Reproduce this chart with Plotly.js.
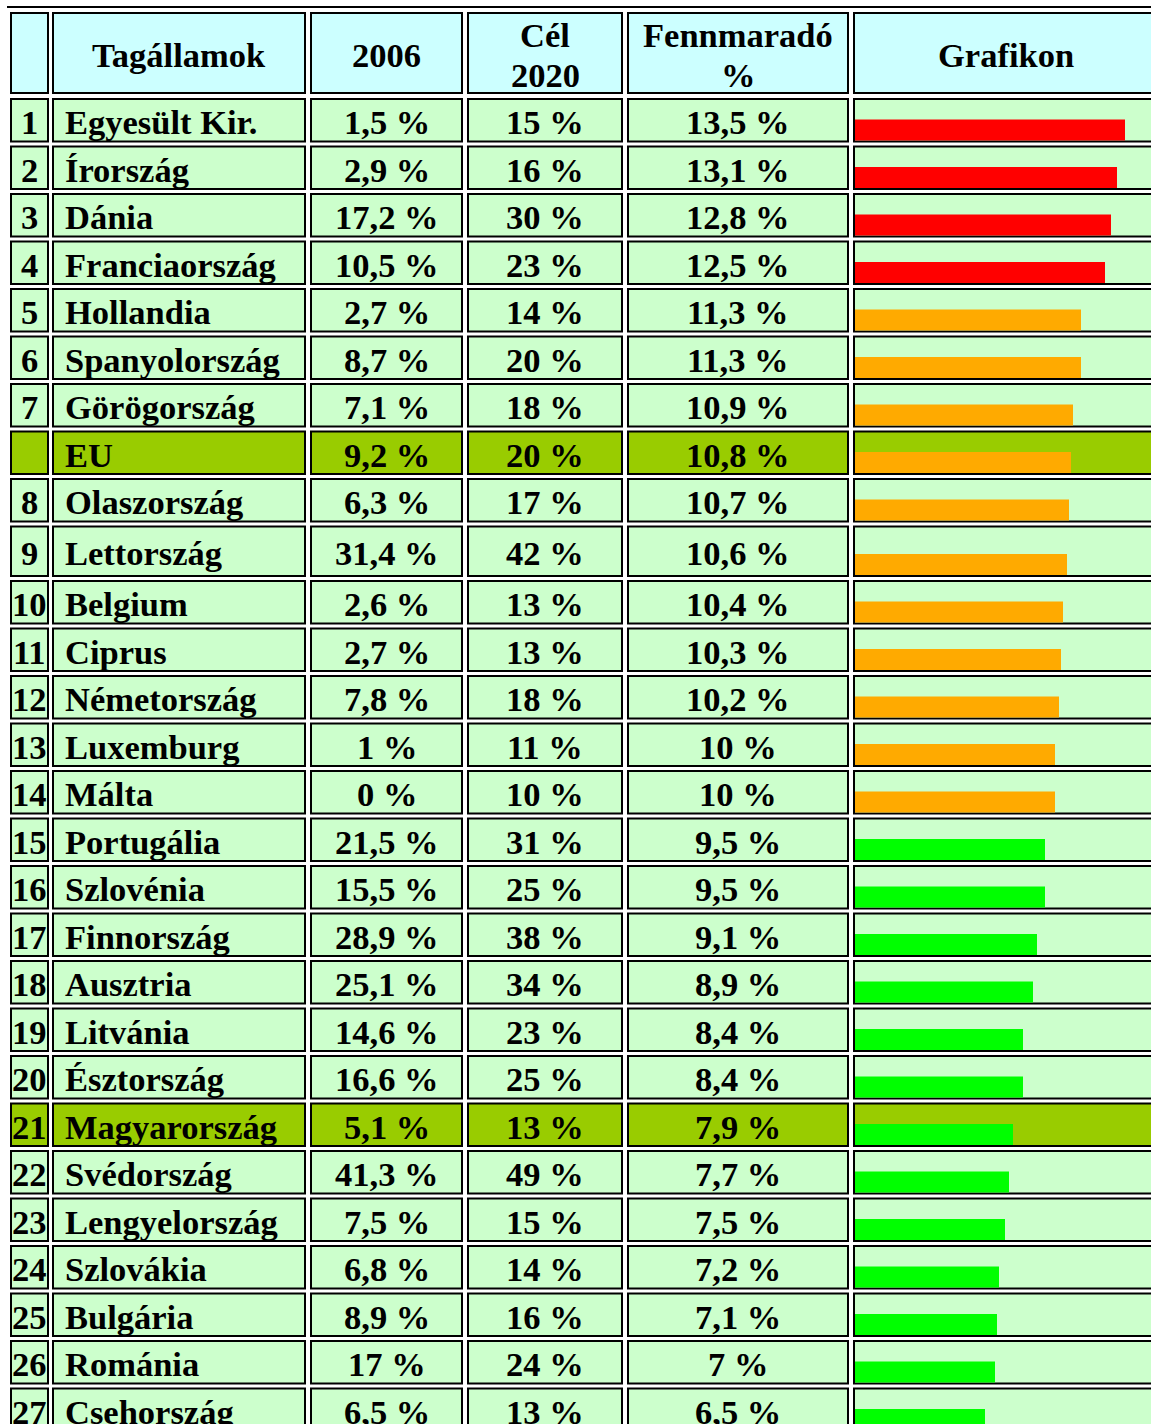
<!DOCTYPE html>
<html>
<head>
<meta charset="utf-8">
<script src="https://cdn.plot.ly/plotly-3.0.1.min.js"></script>
<style>
html,body{margin:0;padding:0;background:#ffffff;}
#chart{width:1151px;height:1424px;}
</style>
</head>
<body>
<div id="chart"></div>
<script>
// ---------------- DATA ----------------
const headers = ['', 'Tagállamok', '2006', 'Cél<br>2020', 'Fennmaradó<br>%', 'Grafikon'];
const ranks = ['1','2','3','4','5','6','7','','8','9','10','11','12','13','14','15','16','17','18','19','20','21','22','23','24','25','26','27'];
const countries = ['Egyesült Kir.','Írország','Dánia','Franciaország','Hollandia','Spanyolország','Görögország','EU','Olaszország','Lettország','Belgium','Ciprus','Németország','Luxemburg','Málta','Portugália','Szlovénia','Finnország','Ausztria','Litvánia','Észtország','Magyarország','Svédország','Lengyelország','Szlovákia','Bulgária','Románia','Csehország'];
const share2006 = [1.5, 2.9, 17.2, 10.5, 2.7, 8.7, 7.1, 9.2, 6.3, 31.4, 2.6, 2.7, 7.8, 1, 0, 21.5, 15.5, 28.9, 25.1, 14.6, 16.6, 5.1, 41.3, 7.5, 6.8, 8.9, 17, 6.5];
const target2020 = [15, 16, 30, 23, 14, 20, 18, 20, 17, 42, 13, 13, 18, 11, 10, 31, 25, 38, 34, 23, 25, 13, 49, 15, 14, 16, 24, 13];
const remaining = [13.5, 13.1, 12.8, 12.5, 11.3, 11.3, 10.9, 10.8, 10.7, 10.6, 10.4, 10.3, 10.2, 10, 10, 9.5, 9.5, 9.1, 8.9, 8.4, 8.4, 7.9, 7.7, 7.5, 7.2, 7.1, 7, 6.5];
const highlighted = ['EU', 'Magyarország'];

// ---------------- LAYOUT / STYLE ----------------
const W = 1151, H = 1424;
const colEdges = [[11, 48], [53, 305], [311, 462], [468, 622], [628, 848], [854, 1158]];
const colAlign = ['center', 'left', 'center', 'center', 'center', 'center'];
const leftPad = 11;
const headerTop = 13, headerBottom = 93;
const firstRowTop = 99, rowHeight = 42.5, rowGap = 5;
const extraHeight = {'Lettország': 7};
const grafikonStart = 855, pxPerUnit = 20, grafBarHeight = 21;
const COL_HEADER = '#ccffff', COL_CELL = '#ccffcc', COL_HI = '#99cc00';
const FONT = {family: '"Liberation Serif", "Times New Roman", serif', size: 34.5, color: '#000000', weight: 'bold'};

function fmt(v) { return String(v).replace('.', ',') + ' %'; }
function barColor(v) { return v >= 12.5 ? '#ff0000' : (v >= 10 ? '#ffaa00' : '#00ff00'); }

// row geometry
const rowTop = [], rowBottom = [];
let t = firstRowTop;
countries.forEach(c => {
  const h = rowHeight + (extraHeight[c] || 0);
  rowTop.push(t); rowBottom.push(t + h);
  t = t + h + rowGap;
});
const centers = [(headerTop + headerBottom) / 2].concat(rowTop.map((v, i) => (v + rowBottom[i]) / 2));
const heights = [headerBottom - headerTop].concat(rowTop.map((v, i) => rowBottom[i] - v));
const fills = [COL_HEADER].concat(countries.map(c => highlighted.includes(c) ? COL_HI : COL_CELL));

const traces = [];
colEdges.forEach(([l, r]) => {
  traces.push({
    type: 'bar', orientation: 'h',
    y: centers, x: centers.map(() => r - l), base: l, width: heights,
    marker: {color: fills, line: {color: '#000000', width: 2}},
    hoverinfo: 'skip', xaxis: 'x', yaxis: 'y'
  });
});
// Grafikon bars
traces.push({
  type: 'bar', orientation: 'h',
  x: remaining, base: 0,
  y: rowBottom.map(b => b - 1 - grafBarHeight / 2),
  width: grafBarHeight,
  marker: {color: remaining.map(barColor), line: {width: 0}},
  hoverinfo: 'skip', xaxis: 'x2', yaxis: 'y'
});

// text annotations
const annotations = [];
function addText(text, col, y, align) {
  const [l, r] = colEdges[col];
  const left = align === 'left';
  annotations.push({
    text: '<b>' + text + '</b>', showarrow: false, xref: 'x', yref: 'y',
    x: left ? l + leftPad : (l + r) / 2, y: y,
    xanchor: left ? 'left' : 'center', yanchor: 'middle',
    font: FONT, borderpad: 0
  });
}
const hMid = (headerTop + headerBottom) / 2 + 2;
headers.forEach((h, c) => {
  if (!h) return;
  const lines = h.split('<br>');
  if (lines.length === 1) addText(lines[0], c, hMid, 'center');
  else lines.forEach((ln, k) => addText(ln, c, hMid + (k - (lines.length - 1) / 2) * 40, 'center'));
});
countries.forEach((c, i) => {
  const y = centers[i + 1] + 2;
  if (ranks[i]) addText(ranks[i], 0, y, colAlign[0]);
  addText(c, 1, y, colAlign[1]);
  addText(fmt(share2006[i]), 2, y, colAlign[2]);
  addText(target2020[i] + ' %', 3, y, colAlign[3]);
  addText(fmt(remaining[i]), 4, y, colAlign[4]);
});

const layout = {
  width: W, height: H,
  margin: {l: 0, r: 0, t: 0, b: 0, pad: 0},
  paper_bgcolor: '#ffffff', plot_bgcolor: '#ffffff',
  showlegend: false, barmode: 'overlay',
  xaxis: {range: [0, W], visible: false, fixedrange: true},
  xaxis2: {overlaying: 'x', anchor: 'y', range: [-grafikonStart / pxPerUnit, (W - grafikonStart) / pxPerUnit], visible: false, fixedrange: true},
  yaxis: {range: [H, 0], visible: false, fixedrange: true},
  shapes: [{type: 'line', xref: 'x', yref: 'y', x0: 7, x1: W, y0: 7, y1: 7, line: {color: '#000000', width: 2}}],
  annotations: annotations
};

Plotly.newPlot('chart', traces, layout, {displayModeBar: false, staticPlot: true});
</script>
</body>
</html>
